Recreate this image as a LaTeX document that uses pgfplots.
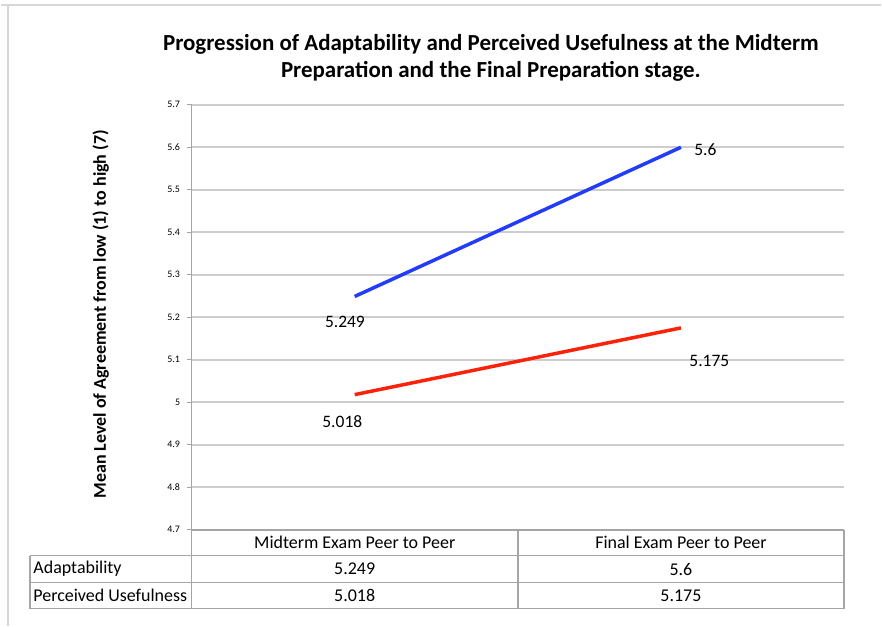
\documentclass[border=0pt]{standalone}
\usepackage{pgfplots}
\pgfplotsset{compat=1.18}
\usepackage{fontspec}
\setmainfont{Carlito}
\definecolor{lineblue}{RGB}{35,60,250}
\definecolor{linered}{RGB}{250,35,10}
\definecolor{gridgray}{RGB}{205,205,205}
\definecolor{framegray}{RGB}{215,215,215}
\definecolor{tablegray}{RGB}{165,165,165}

\begin{document}
\begin{tikzpicture}[x=1pt,y=1pt]
% page frame (image is 882 x 627)
\path (0,0) rectangle (882,627);
\draw[framegray, line width=2] (0,622) -- (882,622);
\draw[framegray, line width=2] (7,0) -- (7,622);

% title
\node[font=\bfseries\fontsize{23}{27}\selectfont, align=center] at (491,569)
  {Progression of Adaptability and Perceived Usefulness at the Midterm\\
   Preparation and the Final Preparation stage.};

% y label
\node[font=\bfseries\fontsize{18}{20}\selectfont, rotate=90] at (100,312)
  {Mean Level of Agreement from low (1) to high (7)};

\begin{axis}[
  at={(191pt,96pt)}, anchor=south west,
  scale only axis, width=654pt, height=426pt,
  xmin=-0.5, xmax=1.5, ymin=4.7, ymax=5.7,
  xtick=\empty,
  ytick={4.7,4.8,4.9,5.0,5.1,5.2,5.3,5.4,5.5,5.6,5.7},
  yticklabels={4.7,4.8,4.9,5,5.1,5.2,5.3,5.4,5.5,5.6,5.7},
  y tick label style={font=\fontsize{10}{11}\selectfont, xshift=-3pt},
  /pgf/number format/assume math mode=true,
  axis x line*=bottom, axis y line*=left,
  axis line style={tablegray, line width=1.5pt, -},
  tick align=outside, major tick length=5pt,
  ytick style={tablegray, line width=1.2pt},
  ymajorgrids=true,
  grid style={gridgray, line width=1.6pt},
  clip=false,
]
\addplot[lineblue, line width=3.5pt] coordinates {(0,5.249) (1,5.6)};
\addplot[linered, line width=3.5pt] coordinates {(0,5.018) (1,5.175)};

\node[font=\fontsize{17.5}{18}\selectfont] at (axis cs:-0.03,5.188) {5.249};
\node[font=\fontsize{17.5}{18}\selectfont] at (axis cs:1.075,5.594) {5.6};
\node[font=\fontsize{17.5}{18}\selectfont] at (axis cs:-0.038,4.954) {5.018};
\node[font=\fontsize{17.5}{18}\selectfont] at (axis cs:1.087,5.097) {5.175};
\end{axis}

% data table under the axis
\begin{scope}[tablegray, line width=1.5]
\draw (191,96) -- (845,96);
\draw (29,70) -- (845,70);
\draw (29,43) -- (845,43);
\draw (29,17) -- (845,17);
\draw (29,70) -- (29,17);
\draw (191,96) -- (191,17);
\draw (518,96) -- (518,17);
\draw (845,96) -- (845,17);
\end{scope}
\begin{scope}[every node/.style={font=\fontsize{18}{20}\selectfont}]
\node at (354.5,83) {Midterm Exam Peer to Peer};
\node at (681.5,83) {Final Exam Peer to Peer};
\node[anchor=west] at (29,56.5) {Adaptability};
\node[anchor=west] at (29,30) {Perceived Usefulness};
\node at (354.5,56.5) {5.249};
\node at (681.5,56.5) {5.6};
\node at (354.5,30) {5.018};
\node at (681.5,30) {5.175};
\end{scope}
\end{tikzpicture}
\end{document}
